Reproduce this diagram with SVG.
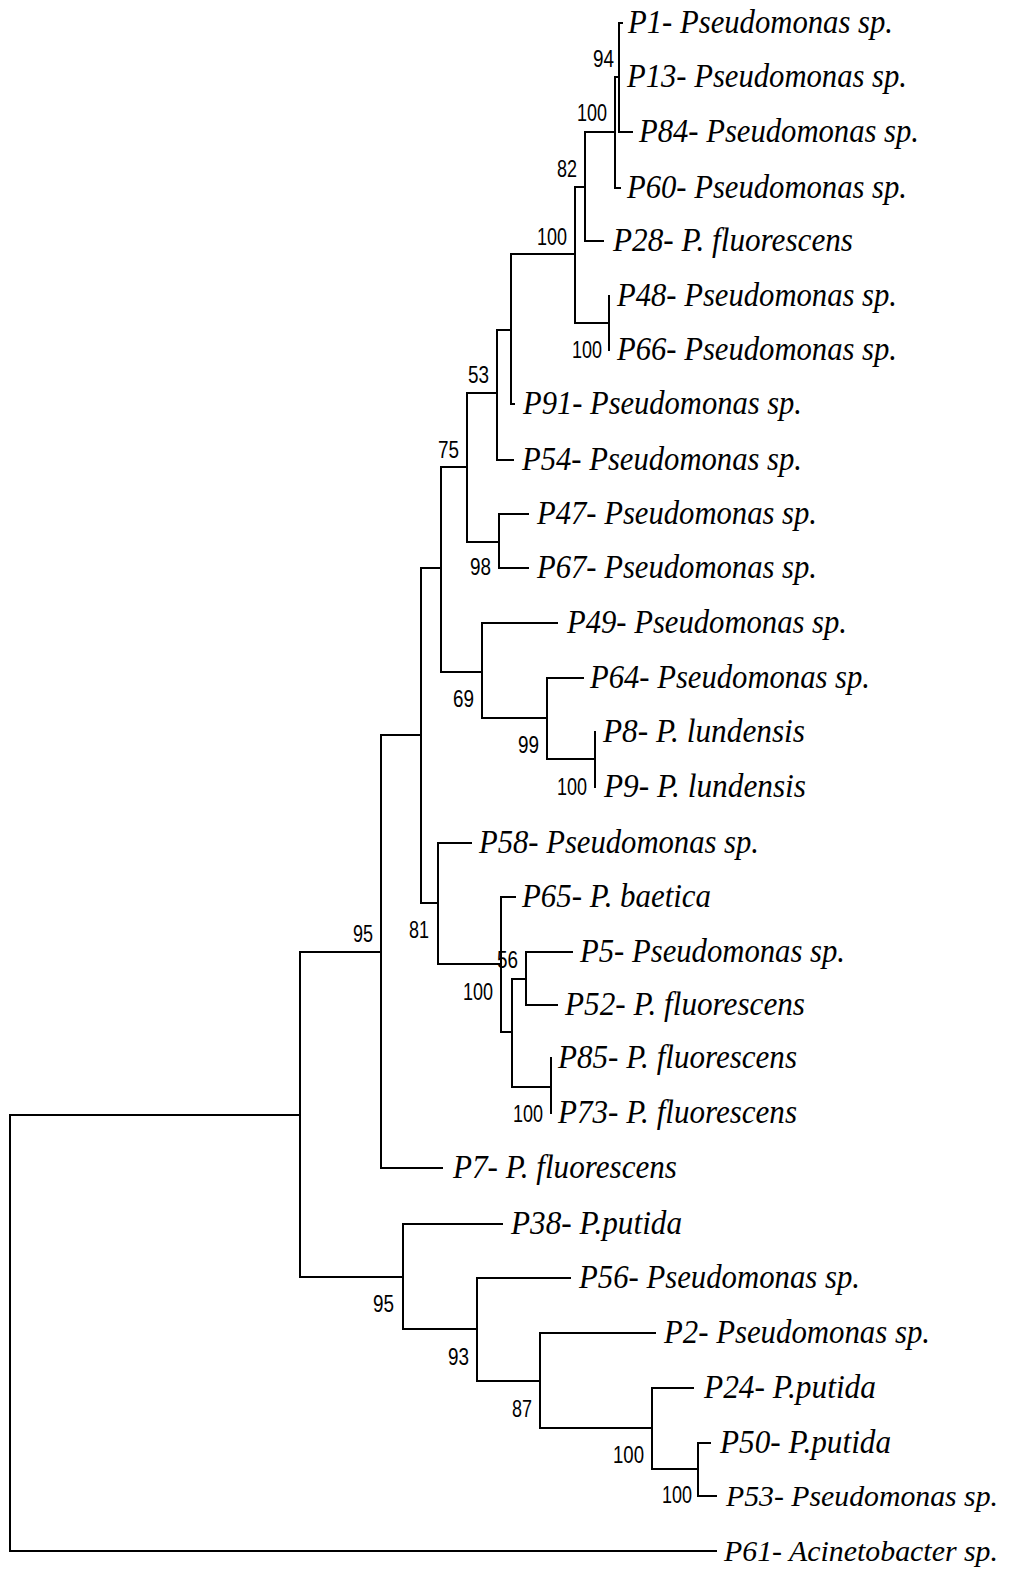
<svg xmlns="http://www.w3.org/2000/svg" width="1011" height="1571" viewBox="0 0 1011 1571">
<style>
.e{fill:none;stroke:#000;stroke-width:2;stroke-linecap:square}
.t{font-family:"Liberation Serif","Times New Roman",serif;font-style:italic;font-size:33px;fill:#000}
.s{font-size:30px}
.b{font-family:"Liberation Sans",Arial,sans-serif;font-size:24px;fill:#000}
</style>
<rect width="1011" height="1571" fill="#fff"/>
<g id="connectors" class="e">
<path d="M619 23V132M619 23H622M619 132H632"/>
<path d="M615 77V188M615 77H619M615 188H620"/>
<path d="M585 132V241M585 132H615M585 241H603"/>
<path d="M575 187V323M575 187H585M575 323H609"/>
<path d="M609 296V350"/>
<path d="M511 254V404M511 254H575M511 404H514"/>
<path d="M497 330V460M497 330H511M497 460H513"/>
<path d="M467 393V542M467 393H497M467 542H499"/>
<path d="M499 514V568M499 514H528M499 568H528"/>
<path d="M441 467V672M441 467H467M441 672H482"/>
<path d="M482 623V718M482 623H557M482 718H547"/>
<path d="M547 678V759M547 678H583M547 759H595"/>
<path d="M595 732V787"/>
<path d="M421 568V903M421 568H441M421 903H438"/>
<path d="M438 843V964M438 843H471M438 964H501"/>
<path d="M501 897V1032M501 897H515M501 1032H512"/>
<path d="M512 979V1087M512 979H526M512 1087H551"/>
<path d="M526 952V1005M526 952H572M526 1005H557"/>
<path d="M551 1058V1113"/>
<path d="M381 735V1168M381 735H421M381 1168H442"/>
<path d="M300 952V1277M300 952H381M300 1277H403"/>
<path d="M403 1224V1329M403 1224H502M403 1329H477"/>
<path d="M477 1278V1381M477 1278H570M477 1381H540"/>
<path d="M540 1333V1428M540 1333H655M540 1428H652"/>
<path d="M652 1388V1469M652 1388H693M652 1469H698"/>
<path d="M698 1443V1496M698 1443H710M698 1496H716"/>
<path d="M10 1115V1551M10 1115H300M10 1551H716"/>
</g>
<g id="bootstrap" class="b">
<text x="593" y="67" textLength="21" lengthAdjust="spacingAndGlyphs">94</text>
<text x="577" y="121" textLength="30" lengthAdjust="spacingAndGlyphs">100</text>
<text x="557" y="177" textLength="20" lengthAdjust="spacingAndGlyphs">82</text>
<text x="537" y="245" textLength="30" lengthAdjust="spacingAndGlyphs">100</text>
<text x="572" y="358" textLength="30" lengthAdjust="spacingAndGlyphs">100</text>
<text x="468" y="383" textLength="21" lengthAdjust="spacingAndGlyphs">53</text>
<text x="438" y="458" textLength="21" lengthAdjust="spacingAndGlyphs">75</text>
<text x="470" y="575" textLength="21" lengthAdjust="spacingAndGlyphs">98</text>
<text x="453" y="707" textLength="21" lengthAdjust="spacingAndGlyphs">69</text>
<text x="518" y="753" textLength="21" lengthAdjust="spacingAndGlyphs">99</text>
<text x="557" y="795" textLength="30" lengthAdjust="spacingAndGlyphs">100</text>
<text x="409" y="938" textLength="20" lengthAdjust="spacingAndGlyphs">81</text>
<text x="497" y="968" textLength="21" lengthAdjust="spacingAndGlyphs">56</text>
<text x="463" y="1000" textLength="30" lengthAdjust="spacingAndGlyphs">100</text>
<text x="513" y="1122" textLength="30" lengthAdjust="spacingAndGlyphs">100</text>
<text x="353" y="942" textLength="20" lengthAdjust="spacingAndGlyphs">95</text>
<text x="373" y="1312" textLength="21" lengthAdjust="spacingAndGlyphs">95</text>
<text x="448" y="1365" textLength="21" lengthAdjust="spacingAndGlyphs">93</text>
<text x="512" y="1417" textLength="20" lengthAdjust="spacingAndGlyphs">87</text>
<text x="613" y="1463" textLength="31" lengthAdjust="spacingAndGlyphs">100</text>
<text x="662" y="1503" textLength="30" lengthAdjust="spacingAndGlyphs">100</text>
</g>
<g class="t">
<g id="P1"><text x="628" y="33" textLength="265" lengthAdjust="spacingAndGlyphs">P1- Pseudomonas sp.</text></g>
<g id="P13"><text x="627" y="87" textLength="280" lengthAdjust="spacingAndGlyphs">P13- Pseudomonas sp.</text></g>
<g id="P84"><text x="639" y="142" textLength="280" lengthAdjust="spacingAndGlyphs">P84- Pseudomonas sp.</text></g>
<g id="P60"><text x="627" y="198" textLength="280" lengthAdjust="spacingAndGlyphs">P60- Pseudomonas sp.</text></g>
<g id="P28"><text x="613" y="251" textLength="240" lengthAdjust="spacingAndGlyphs">P28- P. fluorescens</text></g>
<g id="P48"><text x="617" y="306" textLength="280" lengthAdjust="spacingAndGlyphs">P48- Pseudomonas sp.</text></g>
<g id="P66"><text x="617" y="360" textLength="280" lengthAdjust="spacingAndGlyphs">P66- Pseudomonas sp.</text></g>
<g id="P91"><text x="523" y="414" textLength="279" lengthAdjust="spacingAndGlyphs">P91- Pseudomonas sp.</text></g>
<g id="P54"><text x="522" y="470" textLength="280" lengthAdjust="spacingAndGlyphs">P54- Pseudomonas sp.</text></g>
<g id="P47"><text x="537" y="524" textLength="280" lengthAdjust="spacingAndGlyphs">P47- Pseudomonas sp.</text></g>
<g id="P67"><text x="537" y="578" textLength="280" lengthAdjust="spacingAndGlyphs">P67- Pseudomonas sp.</text></g>
<g id="P49"><text x="567" y="633" textLength="280" lengthAdjust="spacingAndGlyphs">P49- Pseudomonas sp.</text></g>
<g id="P64"><text x="590" y="688" textLength="280" lengthAdjust="spacingAndGlyphs">P64- Pseudomonas sp.</text></g>
<g id="P8"><text x="603" y="742" textLength="202" lengthAdjust="spacingAndGlyphs">P8- P. lundensis</text></g>
<g id="P9"><text x="604" y="797" textLength="202" lengthAdjust="spacingAndGlyphs">P9- P. lundensis</text></g>
<g id="P58"><text x="479" y="853" textLength="280" lengthAdjust="spacingAndGlyphs">P58- Pseudomonas sp.</text></g>
<g id="P65"><text x="522" y="907" textLength="189" lengthAdjust="spacingAndGlyphs">P65- P. baetica</text></g>
<g id="P5"><text x="580" y="962" textLength="265" lengthAdjust="spacingAndGlyphs">P5- Pseudomonas sp.</text></g>
<g id="P52"><text x="565" y="1015" textLength="240" lengthAdjust="spacingAndGlyphs">P52- P. fluorescens</text></g>
<g id="P85"><text x="558" y="1068" textLength="239" lengthAdjust="spacingAndGlyphs">P85- P. fluorescens</text></g>
<g id="P73"><text x="558" y="1123" textLength="239" lengthAdjust="spacingAndGlyphs">P73- P. fluorescens</text></g>
<g id="P7"><text x="453" y="1178" textLength="224" lengthAdjust="spacingAndGlyphs">P7- P. fluorescens</text></g>
<g id="P38"><text x="511" y="1234" textLength="171" lengthAdjust="spacingAndGlyphs">P38- P.putida</text></g>
<g id="P56"><text x="579" y="1288" textLength="281" lengthAdjust="spacingAndGlyphs">P56- Pseudomonas sp.</text></g>
<g id="P2"><text x="664" y="1343" textLength="266" lengthAdjust="spacingAndGlyphs">P2- Pseudomonas sp.</text></g>
<g id="P24"><text x="704" y="1398" textLength="172" lengthAdjust="spacingAndGlyphs">P24- P.putida</text></g>
<g id="P50"><text x="720" y="1453" textLength="171" lengthAdjust="spacingAndGlyphs">P50- P.putida</text></g>
<g id="P53"><text class="s" x="726" y="1506" textLength="272" lengthAdjust="spacingAndGlyphs">P53- Pseudomonas sp.</text></g>
<g id="P61"><text class="s" x="724" y="1561" textLength="274" lengthAdjust="spacingAndGlyphs">P61- Acinetobacter sp.</text></g>
</g>
</svg>
